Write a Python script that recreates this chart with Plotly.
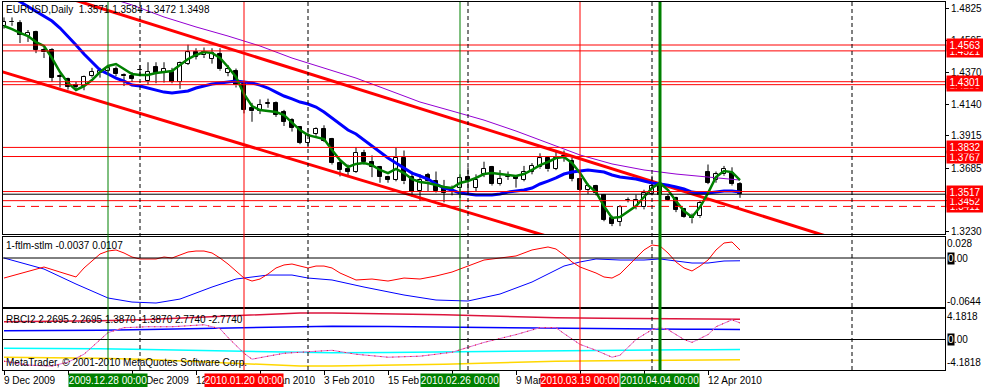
import plotly.graph_objects as go

# ---------------- data (bar index 0 = 9 Dec 2009 ... 92 = 16 Apr 2010, daily) ----------------
opens = [1.4700, 1.4730, 1.4720, 1.4625, 1.4655, 1.4527, 1.4527, 1.4335, 1.4320, 1.4275,
         1.4270, 1.4340, 1.4360, 1.4380, 1.4395, 1.4350, 1.4345, 1.4385, 1.4305, 1.4405,
         1.4365, 1.4370, 1.4300, 1.4430, 1.4515, 1.4490, 1.4465, 1.4500, 1.4365, 1.4380,
         1.4285, 1.4115, 1.4095, 1.4145, 1.4150, 1.4085, 1.4030, 1.3978, 1.3865, 1.3930,
         1.3963, 1.3890, 1.3720, 1.3680, 1.3660, 1.3795, 1.3730, 1.3690, 1.3620, 1.3600,
         1.3760, 1.3620, 1.3520, 1.3635, 1.3590, 1.3540, 1.3520, 1.3540, 1.3620, 1.3545,
         1.3640, 1.3690, 1.3570, 1.3620, 1.3620, 1.3600, 1.3660, 1.3690, 1.3760, 1.3680,
         1.3770, 1.3735, 1.3610, 1.3530, 1.3560, 1.3490, 1.3330, 1.3300, 1.3455, 1.3405,
         1.3405, 1.3500, 1.3555, 1.3480, 1.3470, 1.3395, 1.3340, 1.3340, 1.3655, 1.3600,
         1.3640, 1.3650, 1.3571]
highs = [1.4760, 1.4760, 1.4740, 1.4670, 1.4665, 1.4545, 1.4540, 1.4355, 1.4330, 1.4300,
         1.4345, 1.4400, 1.4400, 1.4420, 1.4410, 1.4360, 1.4370, 1.4420, 1.4440, 1.4440,
         1.4440, 1.4400, 1.4445, 1.4565, 1.4540, 1.4545, 1.4540, 1.4540, 1.4420, 1.4395,
         1.4300, 1.4150, 1.4175, 1.4180, 1.4160, 1.4100, 1.4040, 1.3985, 1.3970, 1.3975,
         1.3990, 1.3900, 1.3740, 1.3710, 1.3835, 1.3815, 1.3775, 1.3700, 1.3630, 1.3830,
         1.3810, 1.3660, 1.3640, 1.3650, 1.3660, 1.3600, 1.3560, 1.3640, 1.3690, 1.3640,
         1.3730, 1.3700, 1.3670, 1.3660, 1.3630, 1.3700, 1.3720, 1.3790, 1.3770, 1.3810,
         1.3810, 1.3760, 1.3640, 1.3575, 1.3565, 1.3500, 1.3345, 1.3420, 1.3475, 1.3495,
         1.3530, 1.3630, 1.3625, 1.3500, 1.3480, 1.3400, 1.3360, 1.3450, 1.3710, 1.3660,
         1.3700, 1.3690, 1.3584]
lows = [1.4680, 1.4700, 1.4577, 1.4585, 1.4505, 1.4470, 1.4300, 1.4260, 1.4245, 1.4235,
        1.4240, 1.4330, 1.4330, 1.4350, 1.4340, 1.4270, 1.4300, 1.4340, 1.4280, 1.4290,
        1.4295, 1.4290, 1.4250, 1.4420, 1.4460, 1.4470, 1.4430, 1.4380, 1.4340, 1.4260,
        1.4075, 1.4015, 1.4070, 1.4115, 1.4050, 1.3985, 1.3945, 1.3855, 1.3830, 1.3915,
        1.3870, 1.3710, 1.3625, 1.3620, 1.3650, 1.3710, 1.3620, 1.3580, 1.3580, 1.3590,
        1.3570, 1.3480, 1.3450, 1.3520, 1.3510, 1.3440, 1.3490, 1.3470, 1.3510, 1.3520,
        1.3620, 1.3560, 1.3560, 1.3600, 1.3545, 1.3590, 1.3640, 1.3680, 1.3660, 1.3670,
        1.3730, 1.3590, 1.3520, 1.3500, 1.3490, 1.3305, 1.3270, 1.3270, 1.3440, 1.3390,
        1.3390, 1.3490, 1.3470, 1.3450, 1.3370, 1.3330, 1.3290, 1.3330, 1.3570, 1.3580,
        1.3630, 1.3560, 1.3472]
closes = [1.4730, 1.4725, 1.4634, 1.4650, 1.4527, 1.4510, 1.4330, 1.4340, 1.4265, 1.4265,
          1.4335, 1.4370, 1.4380, 1.4400, 1.4355, 1.4340, 1.4320, 1.4385, 1.4370, 1.4365,
          1.4395, 1.4300, 1.4435, 1.4510, 1.4480, 1.4515, 1.4505, 1.4390, 1.4390, 1.4275,
          1.4100, 1.4090, 1.4135, 1.4150, 1.4065, 1.4015, 1.3970, 1.3865, 1.3920, 1.3965,
          1.3880, 1.3720, 1.3670, 1.3660, 1.3795, 1.3730, 1.3695, 1.3620, 1.3600, 1.3760,
          1.3590, 1.3515, 1.3600, 1.3590, 1.3520, 1.3510, 1.3530, 1.3615, 1.3590, 1.3600,
          1.3680, 1.3570, 1.3610, 1.3620, 1.3610, 1.3655, 1.3700, 1.3755, 1.3675, 1.3760,
          1.3760, 1.3610, 1.3530, 1.3555, 1.3505, 1.3315, 1.3285, 1.3405, 1.3460, 1.3455,
          1.3510, 1.3560, 1.3490, 1.3460, 1.3385, 1.3335, 1.3325, 1.3435, 1.3580, 1.3640,
          1.3680, 1.3570, 1.3498]

# fast smoothing line (green), slower MA (blue), long MA (violet)
green_ma = [1.4699, 1.4677, 1.4649, 1.4627, 1.4584, 1.4556, 1.4470, 1.4370, 1.4292, 1.4242,
            1.4270, 1.4313, 1.4370, 1.4413, 1.4427, 1.4392, 1.4356, 1.4349, 1.4349, 1.4363,
            1.4370, 1.4377, 1.4420, 1.4463, 1.4492, 1.4513, 1.4506, 1.4470, 1.4406, 1.4335,
            1.4213, 1.4127, 1.4099, 1.4092, 1.4085, 1.4063, 1.4013, 1.3956, 1.3920, 1.3906,
            1.3892, 1.3813, 1.3742, 1.3692, 1.3714, 1.3721, 1.3706, 1.3671, 1.3649, 1.3678,
            1.3649, 1.3606, 1.3585, 1.3578, 1.3563, 1.3549, 1.3542, 1.3578, 1.3592, 1.3614,
            1.3642, 1.3649, 1.3642, 1.3635, 1.3628, 1.3642, 1.3671, 1.3706, 1.3728, 1.3756,
            1.3763, 1.3721, 1.3649, 1.3563, 1.3513, 1.3413, 1.3328, 1.3335, 1.3371, 1.3413,
            1.3478, 1.3542, 1.3578, 1.3528, 1.3449, 1.3378, 1.3335, 1.3406, 1.3506, 1.3621,
            1.3664, 1.3656, 1.3599]
blue_ma = [1.4941, 1.4906, 1.4870, 1.4834, 1.4799, 1.4763, 1.4734, 1.4684, 1.4627, 1.4563,
           1.4499, 1.4442, 1.4385, 1.4356, 1.4327, 1.4306, 1.4277, 1.4270, 1.4256, 1.4242,
           1.4227, 1.4220, 1.4227, 1.4235, 1.4256, 1.4270, 1.4285, 1.4292, 1.4299, 1.4306,
           1.4299, 1.4292, 1.4277, 1.4256, 1.4227, 1.4199, 1.4178, 1.4156, 1.4142, 1.4120,
           1.4085, 1.4042, 1.3999, 1.3956, 1.3928, 1.3885, 1.3842, 1.3799, 1.3756, 1.3721,
           1.3685, 1.3649, 1.3628, 1.3606, 1.3571, 1.3542, 1.3528, 1.3506, 1.3499, 1.3492,
           1.3492, 1.3492, 1.3499, 1.3513, 1.3521, 1.3528, 1.3542, 1.3571, 1.3592, 1.3614,
           1.3642, 1.3656, 1.3664, 1.3671, 1.3664, 1.3656, 1.3635, 1.3621, 1.3614, 1.3606,
           1.3592, 1.3578, 1.3571, 1.3563, 1.3549, 1.3535, 1.3513, 1.3506, 1.3506, 1.3513,
           1.3521, 1.3521, 1.3513]
violet_bars = [12, 16, 20, 24, 28, 32, 36, 40, 44, 48, 52, 56, 60, 64, 68, 72, 76, 80, 84, 88, 92]
violet_ma = [1.4920, 1.4849, 1.4763, 1.4692, 1.4627, 1.4556, 1.4470, 1.4399, 1.4327, 1.4242,
             1.4156, 1.4092, 1.4027, 1.3949, 1.3863, 1.3778, 1.3714, 1.3671, 1.3642, 1.3621, 1.3599]

# trend channel anchors (bar, price)
upper_tl_bars = [10, 100]
upper_tl_prices = [1.4863, 1.3249]
lower_tl_bars = [0, 60]
lower_tl_prices = [1.4368, 1.3334]

# horizontal price levels
red_levels = [1.4563, 1.4521, 1.4301, 1.4280, 1.3832, 1.3767, 1.3517, 1.3452]
dashed_level = 1.3411
bid_price = 1.3498

# indicator 1: ftlm-stlm
ftlm_red_bars = [0, 3, 5, 7, 9, 10, 11, 12, 13, 14, 15, 16, 17, 19, 20, 21, 22, 23, 24, 25, 26, 27, 28,
                 29, 30, 31, 32, 33, 34, 35, 36, 37, 38, 39, 40, 41, 42, 44, 46, 48, 50, 52, 54, 56,
                 58, 60, 62, 64, 66, 68, 69, 70, 71, 72, 73, 74, 75, 76, 77, 78, 79, 80, 81, 82, 83,
                 84, 85, 86, 87, 88, 89, 90, 91, 92]
ftlm_red = [-0.0267, -0.0173, -0.0120, -0.0187, -0.0253, -0.0133, -0.0040, 0.0053, 0.0093, 0.0107,
            0.0067, 0.0013, -0.0013, -0.0013, 0.0013, 0.0, 0.0040, 0.0080, 0.0093, 0.0093, 0.0067,
            0.0, -0.0080, -0.0173, -0.0267, -0.0307, -0.0280, -0.0213, -0.0133, -0.0093, -0.0080,
            -0.0107, -0.0133, -0.0107, -0.0107, -0.0133, -0.0200, -0.0293, -0.0280, -0.0307,
            -0.0267, -0.0280, -0.0240, -0.0187, -0.0107, -0.0027, 0.0, 0.0027, 0.0107, 0.0147,
            0.0120, 0.0040, -0.0053, -0.0120, -0.0160, -0.0200, -0.0253, -0.0267, -0.0213,
            -0.0107, 0.0, 0.0107, 0.0173, 0.0160, 0.0067, -0.0053, -0.0133, -0.0173, -0.0107,
            -0.0027, 0.0107, 0.0200, 0.0213, 0.0107]
ftlm_blue_bars = [0, 5, 9, 13, 16, 19, 22, 26, 29, 33, 36, 38, 41, 45, 50, 54, 58, 62, 66, 70, 72,
                  74, 77, 80, 82, 84, 86, 88, 90, 92]
ftlm_blue = [0.0, -0.0147, -0.0347, -0.0533, -0.0587, -0.0600, -0.0547, -0.0387, -0.0280, -0.0227,
             -0.0227, -0.0267, -0.0293, -0.0387, -0.0493, -0.0560, -0.0573, -0.0480, -0.0320,
             -0.0107, -0.0053, -0.0013, -0.0027, -0.0027, -0.0013, -0.0040, -0.0067, -0.0067,
             -0.0040, -0.0037]

# indicator 2: RBCI2 oscillator and adaptive levels (+L, +L/2, -L/2, -L)
rbci_bars = [0, 3, 6, 8, 10, 12, 13, 15, 18, 21, 23, 25, 27, 28, 30, 31, 33, 35, 37, 39, 41, 44,
             48, 52, 56, 60, 64, 67, 69, 70, 72, 74, 76, 77, 79, 81, 82, 83, 85, 86, 88, 89, 91, 92]
rbci = [-2.97, -3.51, -3.64, -3.10, -2.02, 0.0, 0.94, 1.62, 1.75, 1.75, 1.89, 2.02, 1.48, 0.27,
        -1.89, -2.70, -2.29, -1.89, -1.75, -1.62, -1.48, -2.02, -2.43, -2.29, -1.75, -0.40, 0.67,
        1.62, 1.62, 0.81, -0.67, -1.48, -2.43, -2.16, 0.0, 1.35, 1.62, 1.35, 0.0, -0.40, 0.67,
        1.75, 2.70, 2.2695]
level_bars = [0, 6, 12, 18, 23, 28, 33, 37, 41, 48, 55, 62, 69, 75, 80, 85, 88, 92]
level_hi = [2.43, 2.45, 2.56, 2.75, 2.97, 3.15, 3.37, 3.64, 3.64, 3.55, 3.40, 3.20, 2.97, 2.90,
            2.85, 2.80, 2.78, 2.774]

# time axis labels (those fully hidden under object labels in the original are left out)
time_tick_bars = [0, 8, 16, 24, 32, 40, 48, 56, 64, 72, 80, 88]
time_label_bars = [0, 16, 24, 32, 40, 48, 64, 88]
time_labels = ["9 Dec 2009", "31 Dec 2009", "12 Jan 2010", "22 Jan 2010",
               "3 Feb 2010", "15 Feb 2010", "9 Mar 2010", "12 Apr 2010"]

# vertical line objects
vline_bars = [13, 30, 57, 72, 82]
vline_labels = ["2009.12.28 00:00", "2010.01.20 00:00", "2010.02.26 00:00",
                "2010.03.19 00:00", "2010.04.04 00:00"]
vline_colors = ["#008000", "#FF0000", "#008000", "#FF0000", "#008000"]
vline_widths = [1, 1, 1, 1, 3]
separator_bars = [17, 38, 58, 81, 106]

price_ticks = [1.4825, 1.4595, 1.4370, 1.4140, 1.3915, 1.3685, 1.3455, 1.3230]

# ---------------- layout geometry ----------------
W, H = 983, 387
L_PX, R_PX, T_PX, B_PX = 3, 945, 2, 370
X_RANGE = [-0.125, 117.625]
PRICE_RANGE = [1.3214, 1.4870]
IND1_RANGE = [-0.0653, 0.028]
IND2_RANGE = [-4.1818, 4.1818]
FONT = "Liberation Sans, Arial, sans-serif"
MIN_BODY = 0.00004  # so that a doji body is still drawn as a line


def pxx(p):
    return (p - L_PX) / (R_PX - L_PX)


def pxy(p):
    return (B_PX - p) / (B_PX - T_PX)


bars = list(range(len(closes)))

fig = go.Figure()

# candle wicks (upper and lower parts, so white bodies stay clean)
wx, wy = [], []
for i, o, h, l, c in zip(bars, opens, highs, lows, closes):
    top, bot = max(o, c), min(o, c)
    wx += [i, i, None, i, i, None]
    wy += [h, top, None, bot, l, None]
fig.add_trace(go.Scatter(x=wx, y=wy, mode="lines", line=dict(color="black", width=1),
                         hoverinfo="skip", showlegend=False, xaxis="x", yaxis="y"))

# candle bodies
body_base = [min(o, c) for o, c in zip(opens, closes)]
body_len = [max(abs(c - o), MIN_BODY) for o, c in zip(opens, closes)]
body_fill = ["white" if c >= o else "black" for o, c in zip(opens, closes)]
fig.add_trace(go.Bar(x=bars, y=body_len, base=body_base, width=0.62,
                     marker=dict(color=body_fill, line=dict(color="black", width=1)),
                     hoverinfo="skip", showlegend=False, xaxis="x", yaxis="y"))


def extend(b, p):
    slope = (p[1] - p[0]) / (b[1] - b[0])
    xs = [X_RANGE[0] - 1, X_RANGE[1] + 1]
    return xs, [p[0] + slope * (x - b[0]) for x in xs]


for tb, tp in [(upper_tl_bars, upper_tl_prices), (lower_tl_bars, lower_tl_prices)]:
    xs, ys = extend(tb, tp)
    fig.add_trace(go.Scatter(x=xs, y=ys, mode="lines", line=dict(color="#FF0000", width=3),
                             hoverinfo="skip", showlegend=False, xaxis="x", yaxis="y"))

fig.add_trace(go.Scatter(x=violet_bars, y=violet_ma, mode="lines",
                         line=dict(color="#9400D3", width=1), hoverinfo="skip",
                         showlegend=False, xaxis="x", yaxis="y"))
fig.add_trace(go.Scatter(x=bars, y=blue_ma, mode="lines", line=dict(color="#0000FF", width=3),
                         hoverinfo="skip", showlegend=False, xaxis="x", yaxis="y"))
fig.add_trace(go.Scatter(x=bars, y=green_ma, mode="lines", line=dict(color="#008000", width=2.5),
                         hoverinfo="skip", showlegend=False, xaxis="x", yaxis="y"))

# indicator 1
fig.add_trace(go.Scatter(x=ftlm_blue_bars, y=ftlm_blue, mode="lines",
                         line=dict(color="#0000FF", width=1), hoverinfo="skip",
                         showlegend=False, xaxis="x2", yaxis="y2"))
fig.add_trace(go.Scatter(x=ftlm_red_bars, y=ftlm_red, mode="lines",
                         line=dict(color="#FF0000", width=1), hoverinfo="skip",
                         showlegend=False, xaxis="x2", yaxis="y2"))

# indicator 2
lv_colors = ["#DC143C", "#0000FF", "#00FFFF", "#FFD700"]
lv_factors = [1.0, 0.5, -0.5, -1.0]
for c, f in zip(lv_colors, lv_factors):
    fig.add_trace(go.Scatter(x=level_bars, y=[v * f for v in level_hi], mode="lines",
                             line=dict(color=c, width=1.5), hoverinfo="skip",
                             showlegend=False, xaxis="x3", yaxis="y3"))
fig.add_trace(go.Scatter(x=rbci_bars, y=rbci, mode="lines", line=dict(color="#DA70D6", width=1),
                         hoverinfo="skip", showlegend=False, xaxis="x3", yaxis="y3"))
fig.add_trace(go.Scatter(x=rbci_bars, y=rbci, mode="lines",
                         line=dict(color="#FF0000", width=1, dash="1px,5px"), hoverinfo="skip",
                         showlegend=False, xaxis="x3", yaxis="y3"))

shapes = []
for lv in red_levels:
    shapes.append(dict(type="line", xref="x domain", yref="y", x0=0, x1=1, y0=lv, y1=lv,
                       line=dict(color="#FF0000", width=1), layer="above"))
shapes.append(dict(type="line", xref="x domain", yref="y", x0=0, x1=1, y0=dashed_level,
                   y1=dashed_level, line=dict(color="#FF0000", width=1, dash="8px,6px"),
                   layer="above"))
shapes.append(dict(type="line", xref="x domain", yref="y", x0=0, x1=1, y0=bid_price,
                   y1=bid_price, line=dict(color="#000000", width=1), layer="above"))
shapes.append(dict(type="line", xref="x2 domain", yref="y2", x0=0, x1=1, y0=0, y1=0,
                   line=dict(color="#000000", width=1), layer="above"))
shapes.append(dict(type="line", xref="x3 domain", yref="y3", x0=0, x1=1, y0=0, y1=0,
                   line=dict(color="#000000", width=1), layer="above"))
for b in separator_bars:
    shapes.append(dict(type="line", xref="x", yref="paper", x0=b, x1=b, y0=0, y1=1,
                       line=dict(color="#000000", width=1, dash="4px,3px"), layer="above"))
for b, c, w in zip(vline_bars, vline_colors, vline_widths):
    shapes.append(dict(type="line", xref="x", yref="paper", x0=b, x1=b, y0=0, y1=1,
                       line=dict(color=c, width=w), layer="above"))

ann = []


def text(x, y, t, color="black", xanchor="left", size=10, **kw):
    d = dict(x=x, y=y, xref="paper", yref="paper", text=t, showarrow=False, xanchor=xanchor,
             yanchor="middle", font=dict(family=FONT, size=size, color=color), borderpad=0)
    d.update(kw)
    ann.append(d)


text(pxx(5), pxy(10), "EURUSD,Daily  1.3571 1.3584 1.3472 1.3498")
text(pxx(5), pxy(245), "1-ftlm-stlm -0.0037 0.0107")
text(pxx(5), pxy(319), "RBCI2 2.2695 2.2695 1.3870 -1.3870 2.7740 -2.7740")
text(pxx(5), pxy(362), "MetaTrader, © 2001-2010 MetaQuotes Software Corp.")

# indicator axis labels
text(pxx(946), pxy(244), "0.028")
text(pxx(946), pxy(301), "-0.0644")
text(pxx(946), pxy(316), "4.1818")
text(pxx(946), pxy(362), "-4.1818")
for zy in [258, 339.5]:
    text(pxx(951), pxy(zy), "0", color="white", xanchor="center", bgcolor="black")
    text(pxx(961), pxy(zy), ".00", xanchor="center")

# red price level labels (lower first so higher ones overlap them)
for lv in sorted(red_levels + [dashed_level]):
    ann.append(dict(x=pxx(946), y=lv, xref="paper", yref="y", text=f"{lv:.4f}",
                    showarrow=False, xanchor="left", yanchor="middle", bgcolor="#FF0000",
                    width=36, height=12, borderpad=0,
                    font=dict(family=FONT, size=10, color="white")))

# time labels
for b, t in zip(time_label_bars, time_labels):
    ann.append(dict(x=b, y=pxy(380), xref="x3", yref="paper", text=t, showarrow=False,
                    xanchor="left", yanchor="middle", xshift=-2,
                    font=dict(family=FONT, size=10, color="black")))
for b, t, c in zip(vline_bars, vline_labels, vline_colors):
    ann.append(dict(x=b, y=pxy(380), xref="x3", yref="paper", text=t, showarrow=False,
                    xanchor="center", yanchor="middle", bgcolor=c, width=78, height=13,
                    borderpad=0, font=dict(family=FONT, size=10, color="white")))

axis_common = dict(showgrid=False, zeroline=False, showline=True, mirror=True,
                   linecolor="black", linewidth=1, range=X_RANGE, fixedrange=True)

fig.update_layout(
    width=W, height=H,
    margin=dict(l=L_PX, r=W - R_PX, t=T_PX, b=H - B_PX, pad=0, autoexpand=False),
    paper_bgcolor="white", plot_bgcolor="white",
    showlegend=False, barmode="overlay", bargap=0,
    font=dict(family=FONT, size=10, color="black"),
    xaxis=dict(domain=[0, 1], anchor="y", showticklabels=False, ticks="",
               rangeslider=dict(visible=False), **axis_common),
    xaxis2=dict(domain=[0, 1], anchor="y2", matches="x", showticklabels=False, ticks="",
                **axis_common),
    xaxis3=dict(domain=[0, 1], anchor="y3", matches="x", showticklabels=False, ticks="outside",
                ticklen=4, tickcolor="black", tickmode="array", tickvals=time_tick_bars,
                **axis_common),
    yaxis=dict(domain=[pxy(234), 1], anchor="x", side="right", range=PRICE_RANGE,
               showgrid=False, zeroline=False, showline=True, mirror=True, linecolor="black",
               tickmode="array", tickvals=price_ticks, fixedrange=True,
               ticktext=[f"{v:.4f}" for v in price_ticks], ticks="outside", ticklen=3,
               tickcolor="black", tickfont=dict(family=FONT, size=10, color="black")),
    yaxis2=dict(domain=[pxy(307), pxy(237)], anchor="x2", side="right", range=IND1_RANGE,
                showgrid=False, zeroline=False, showline=True, mirror=True, linecolor="black",
                showticklabels=False, ticks="", fixedrange=True),
    yaxis3=dict(domain=[0, pxy(309)], anchor="x3", side="right", range=IND2_RANGE,
                showgrid=False, zeroline=False, showline=True, mirror=True, linecolor="black",
                showticklabels=False, ticks="", fixedrange=True),
    shapes=shapes,
    annotations=ann,
)

fig.write_html("out.html", config={"displayModeBar": False},
               post_script="document.body.style.margin='0';")
